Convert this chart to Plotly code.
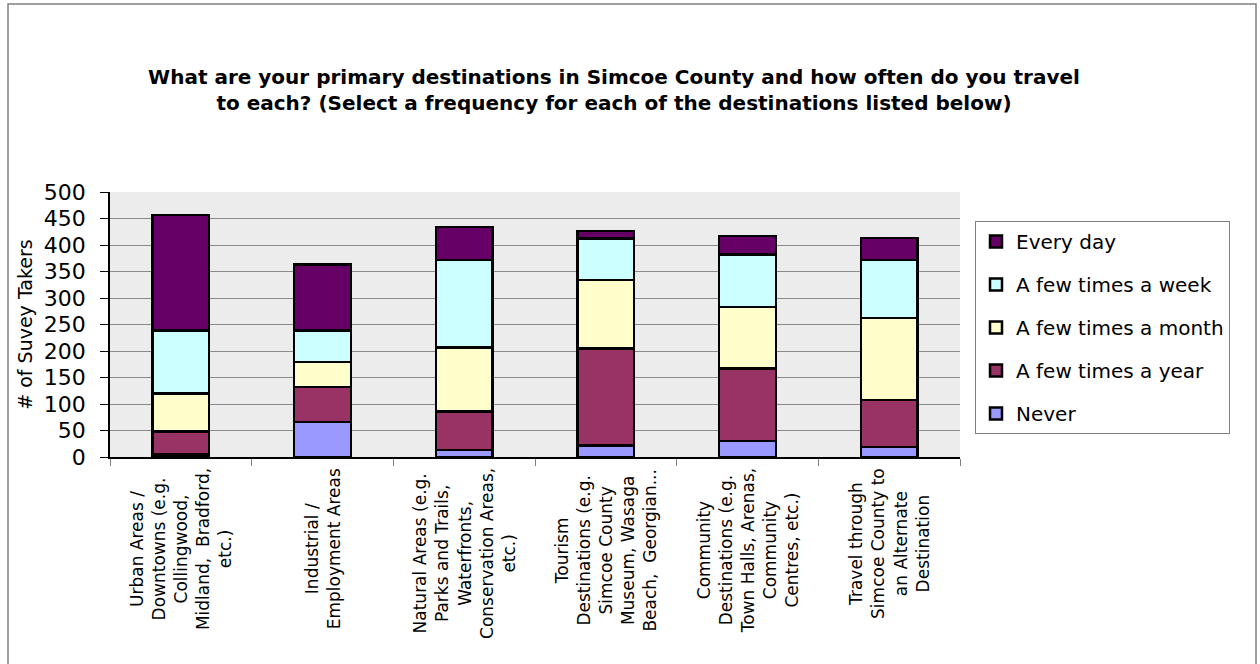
import plotly.graph_objects as go

# Destinations (category labels, wrapped as they appear under the axis)
destinations = [
    "Urban Areas /<br>Downtowns (e.g.<br>Collingwood,<br>Midland,  Bradford,<br>etc.)",
    "Industrial /<br>Employment Areas",
    "Natural Areas (e.g.<br>Parks and Trails,<br>Waterfronts,<br>Conservation Areas,<br>etc.)",
    "Tourism<br>Destinations (e.g.<br>Simcoe County<br>Museum, Wasaga<br>Beach,  Georgian...",
    "Community<br>Destinations (e.g.<br>Town Halls, Arenas,<br>Community<br>Centres, etc.)",
    "Travel through<br>Simcoe County to<br>an Alternate<br>Destination",
]
cat_ids = ["urban", "industrial", "natural", "tourism", "community", "travel"]

# Number of survey takers per frequency
never = [5, 66, 13, 22, 30, 19]
few_year = [43, 66, 73, 183, 137, 89]
few_month = [72, 47, 121, 129, 116, 154]
few_week = [119, 60, 165, 78, 99, 110]
every_day = [218, 124, 62, 14, 35, 41]

# (name, values, colour, legend rank) - stacked bottom to top
series = [
    ("Never", never, "#9999FF", 5),
    ("A few times a year", few_year, "#993366", 4),
    ("A few times a month", few_month, "#FFFFCC", 3),
    ("A few times a week", few_week, "#CCFFFF", 2),
    ("Every day", every_day, "#660066", 1),
]

y_ticks = [0, 50, 100, 150, 200, 250, 300, 350, 400, 450, 500]

FONT = "DejaVu Sans, Liberation Sans, Arial, sans-serif"

fig = go.Figure()
for name, vals, color, rank in series:
    fig.add_trace(go.Bar(
        x=cat_ids, y=vals, name=name, legendgroup=name, legendrank=rank,
        marker=dict(color=color, line=dict(color="black", width=2.5)),
        width=0.4,
    ))

# Rotated, centred category labels below the axis
for cid, label in zip(cat_ids, destinations):
    fig.add_annotation(
        x=cid, xref="x", y=-0.035, yref="paper",
        text=label, textangle=-90, showarrow=False,
        xanchor="center", yanchor="top", align="center",
        font=dict(family=FONT, size=17, color="black"),
    )

# Outer chart frame
fig.add_shape(
    type="rect", xref="paper", yref="paper",
    x0=(8 - 110) / 850, x1=(1256 - 110) / 850,
    y0=(457 - 700) / 265, y1=(457 - 4) / 265,
    line=dict(color="#808080", width=1.5), fillcolor="rgba(0,0,0,0)",
    layer="below",
)

fig.update_layout(
    width=1260, height=664,
    margin=dict(l=110, r=300, t=192, b=207),
    paper_bgcolor="white", plot_bgcolor="#ECECEC",
    barmode="stack", bargap=0.6,
    font=dict(family=FONT, color="black"),
    title=dict(
        text="What are your primary destinations in Simcoe County and how often do you travel<br>to each? (Select a frequency for each of the destinations listed below)",
        x=(614 - 110) / 850, xref="paper", xanchor="center",
        y=1 - 84 / 664, yref="container", yanchor="middle",
        font=dict(family=FONT, size=20, color="black", weight="bold"),
    ),
    showlegend=True,
    legend=dict(
        x=(975 - 110) / 850, xanchor="left",
        y=(457 - 221) / 265, yanchor="top",
        traceorder="grouped", tracegroupgap=14,
        bordercolor="#808080", borderwidth=1, bgcolor="white",
        font=dict(family=FONT, size=20, color="black"),
    ),
    xaxis=dict(
        type="category", categoryorder="array", categoryarray=cat_ids,
        showticklabels=False, tickson="boundaries",
        ticks="outside", ticklen=7, tickcolor="#808080",
        showline=True, linecolor="black", linewidth=1.5,
        showgrid=False, range=[-0.5, 5.5],
    ),
    yaxis=dict(
        range=[0, 500], tickvals=y_ticks,
        ticks="outside", ticklen=8, tickcolor="black",
        ticklabelstandoff=10,
        tickfont=dict(family=FONT, size=22, color="black"),
        showline=True, linecolor="black", linewidth=1.5,
        showgrid=True, gridcolor="#8A8A8A", gridwidth=1.2,
        zeroline=False,
        title=dict(text="# of Suvey Takers", standoff=6,
                   font=dict(family=FONT, size=19, color="black")),
    ),
)

fig.write_html("out.html")
